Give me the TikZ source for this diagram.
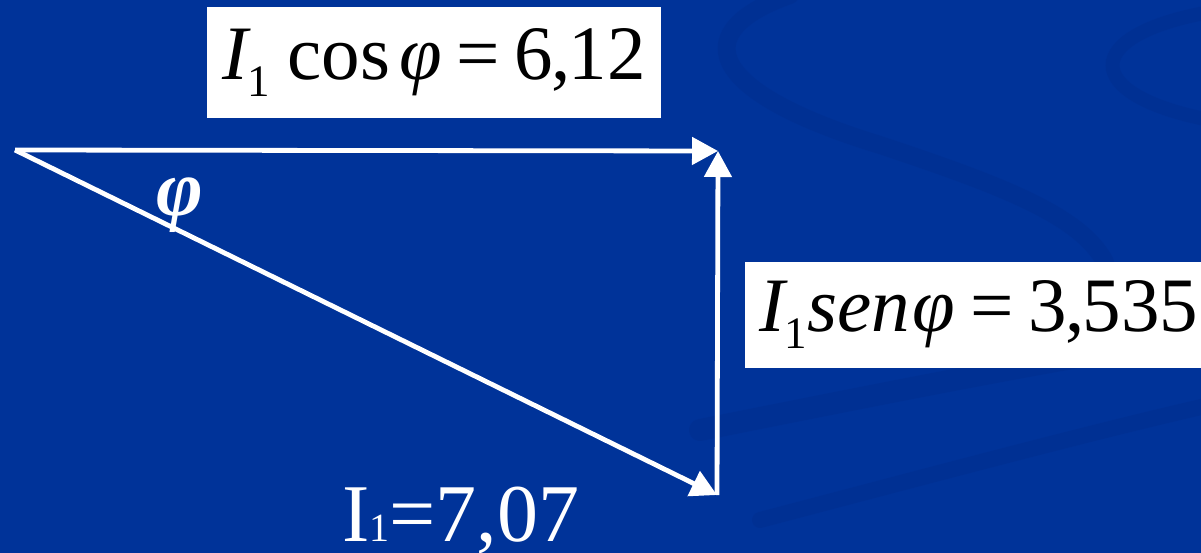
\documentclass[tikz,border=0pt]{standalone}
\usepackage{fontspec}
\setmainfont{Liberation Serif}
\usetikzlibrary{arrows.meta}
\definecolor{bgblue}{RGB}{0,51,153}
\definecolor{swirl}{RGB}{0,38,125}
\tikzset{
  vec/.style={draw=white, line width=4.8pt,
    -{Triangle[length=26pt, width=27pt]}},
  labelbox/.style={fill=white, text=black, inner sep=0pt},
  bigtext/.style={font=\fontsize{77}{80}\selectfont},
  swirlband/.style={draw=swirl, line width=#1, opacity=0.18, line cap=round},
}
\newcommand{\subone}{\raisebox{-17pt}{\fontsize{45}{47}\selectfont 1}}
\newcommand{\eqsp}{\hspace{15pt}}
\begin{document}
\begin{tikzpicture}[x=1pt,y=-1pt]
  \fill[bgblue] (0,0) rectangle (1201,553);
  \useasboundingbox (0,0) rectangle (1201,553);
  % faint background swirls
  \draw[swirlband=18pt] (790,-5) .. controls (690,30) and (700,90) .. (880,145)
        .. controls (1000,185) and (1080,215) .. (1105,262);
  \draw[swirlband=14pt] (1210,12) .. controls (1080,35) and (1080,95) .. (1210,120);
  \draw[swirlband=22pt] (700,430) .. controls (900,390) and (1050,360) .. (1210,335);
  \draw[swirlband=16pt] (760,520) .. controls (950,470) and (1100,430) .. (1210,405);
  % vertices
  \coordinate (O) at (15,150);
  \coordinate (A) at (718,151);
  \coordinate (B) at (717,495);
  % vectors
  \draw[vec] (O) -- (A);
  \draw[vec] (B) -- (A);
  \draw[vec] (O) -- (B);
  % angle label
  \node[text=white, font=\bfseries\itshape\fontsize{80}{82}\selectfont] (phi) at (180,205) {φ};
  % label boxes
  \node[labelbox, minimum width=454pt, minimum height=111pt, bigtext] (cosbox) at (434,62.5)
    {\itshape I\upshape\subone\hspace{17pt}cos\hspace{9pt}\itshape φ\upshape\eqsp=\eqsp 6\kern-2pt,\kern-2pt12};
  \node[labelbox, anchor=west, minimum height=106pt, inner xsep=14pt, bigtext] (senbox) at (745,315)
    {\itshape I\upshape\subone\itshape sen\kern3pt φ\upshape\eqsp=\eqsp 3\kern-2pt,\kern-2pt535\hspace{40pt}};
  % magnitude label
  \node[text=white, anchor=base west, inner sep=0pt,
        font=\fontsize{82}{84}\selectfont] (mag) at (342,541)
    {I{\fontsize{40}{42}\selectfont 1}=7,07};
\end{tikzpicture}
\end{document}
